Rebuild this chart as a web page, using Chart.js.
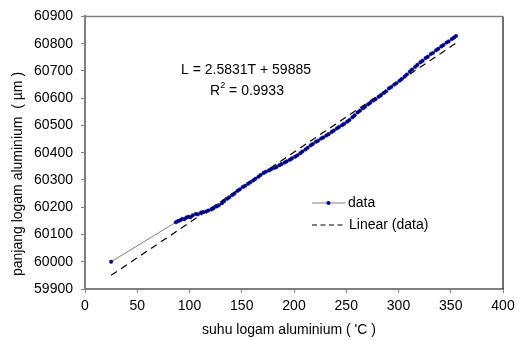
<!DOCTYPE html>
<html>
<head>
<meta charset="utf-8">
<script src="https://cdn.jsdelivr.net/npm/chart.js@4"></script>
<style>
  html, body { margin: 0; padding: 0; background: #fff; }
  #wrap { width: 520px; height: 340px; }
</style>
</head>
<body>
<div id="wrap"><canvas id="js--chart" width="520" height="340"></canvas></div>
<script>
// temperature (C) and length (um)
const suhu = [
    25, 87, 89, 91, 93, 95, 97, 99, 101, 103, 106, 108, 111, 113, 116, 118, 121, 123, 126, 128,
    131, 133, 136, 138, 141, 143, 146, 148, 151, 153, 156, 158, 161, 163, 166, 168, 171, 173, 176, 178,
    181, 183, 186, 188, 191, 193, 196, 198, 201, 203, 206, 208, 211, 213, 216, 218, 221, 223, 226, 228,
    231, 233, 236, 238, 241, 243, 246, 248, 251, 253, 256, 258, 261, 263, 266, 268, 271, 273, 276, 278,
    281, 283, 286, 288, 291, 293, 296, 298, 301, 303, 306, 308, 311, 313, 316, 318, 321, 323, 326, 328,
    331, 333, 336, 338, 341, 343, 346, 348, 351, 353, 355
];
const panjang = [
    60000, 60145, 60149, 60152, 60157, 60156, 60162, 60165, 60163, 60170, 60175, 60174, 60180, 60182, 60184, 60188, 60192, 60196, 60203, 60207,
    60215, 60222, 60231, 60236, 60245, 60250, 60260, 60265, 60274, 60278, 60286, 60291, 60298, 60304, 60312, 60318, 60326, 60330, 60335, 60339,
    60344, 60347, 60354, 60358, 60364, 60368, 60374, 60379, 60385, 60390, 60398, 60404, 60412, 60418, 60427, 60432, 60440, 60444, 60452, 60456,
    60463, 60468, 60476, 60481, 60489, 60494, 60501, 60506, 60514, 60520, 60530, 60537, 60548, 60554, 60563, 60569, 60578, 60583, 60592, 60596,
    60605, 60610, 60619, 60625, 60636, 60641, 60650, 60655, 60664, 60670, 60680, 60687, 60698, 60705, 60715, 60722, 60732, 60737, 60747, 60752,
    60762, 60766, 60776, 60781, 60790, 60795, 60804, 60808, 60817, 60822, 60828
];
// trendline L = 2.5831T + 59885, end points
const trendSuhu = [25, 355];
const trendPanjang = [59950, 60802];

const xTicks = [0, 50, 100, 150, 200, 250, 300, 350, 400];
const yTicks = [59900, 60000, 60100, 60200, 60300, 60400, 60500, 60600, 60700, 60800, 60900];

const FONT = "'Liberation Sans', Arial, sans-serif";

const dataPoints = suhu.map(function (t, i) { return { x: t, y: panjang[i] }; });
const trendPoints = trendSuhu.map(function (t, i) { return { x: t, y: trendPanjang[i] }; });

const extras = {
    id: 'extras',
    afterDraw: function (chart) {
        const ctx = chart.ctx;
        const a = chart.chartArea;
        ctx.save();
        // frame top / right
        ctx.lineWidth = 1.5;
        ctx.strokeStyle = '#808080';
        ctx.beginPath();
        ctx.moveTo(a.left, a.top);
        ctx.lineTo(a.right, a.top);
        ctx.stroke();
        ctx.strokeStyle = '#404040';
        ctx.beginPath();
        ctx.moveTo(a.right, a.top);
        ctx.lineTo(a.right, a.bottom);
        ctx.stroke();

        ctx.fillStyle = '#000';
        ctx.font = '14px ' + FONT;
        ctx.textBaseline = 'middle';

        // equation
        ctx.textAlign = 'center';
        ctx.fillText('L = 2.5831T + 59885', 246, 70);
        const r = 'R', rest = ' = 0.9933';
        const wR = ctx.measureText(r).width;
        ctx.font = '9px ' + FONT;
        const w2 = ctx.measureText('2').width;
        ctx.font = '14px ' + FONT;
        const wRest = ctx.measureText(rest).width;
        let x0 = 247 - (wR + w2 + wRest) / 2;
        ctx.textAlign = 'left';
        ctx.fillText(r, x0, 91);
        ctx.font = '9px ' + FONT;
        ctx.fillText('2', x0 + wR, 86);
        ctx.font = '14px ' + FONT;
        ctx.fillText(rest, x0 + wR + w2, 91);

        // legend
        ctx.lineWidth = 1;
        ctx.strokeStyle = '#808080';
        ctx.beginPath();
        ctx.moveTo(312, 203);
        ctx.lineTo(345, 203);
        ctx.stroke();
        ctx.fillStyle = '#000080';
        ctx.beginPath();
        ctx.arc(328.5, 203, 2, 0, Math.PI * 2);
        ctx.fill();
        ctx.strokeStyle = '#000';
        ctx.lineWidth = 1.2;
        ctx.setLineDash([5, 3.5]);
        ctx.beginPath();
        ctx.moveTo(312, 225);
        ctx.lineTo(346, 225);
        ctx.stroke();
        ctx.setLineDash([]);
        ctx.fillStyle = '#000';
        ctx.fillText('data', 348, 203);
        ctx.fillText('Linear (data)', 349, 225);

        // axis titles
        ctx.textAlign = 'center';
        ctx.fillText("suhu logam aluminium ( 'C )", 289, 330);
        ctx.translate(18, 174);
        ctx.rotate(-Math.PI / 2);
        ctx.fillText('panjang logam aluminium  ( \u00b5m )', 0, 0);
        ctx.restore();
    }
};

const config = {
    type: 'scatter',
    data: {
        datasets: [{
            label: 'data',
            data: dataPoints,
            showLine: true,
            borderColor: '#808080',
            borderWidth: 1,
            pointRadius: 1.8,
            pointBackgroundColor: '#000080',
            pointBorderColor: '#000080',
            pointBorderWidth: 0.5,
            order: 1
        }, {
            label: 'Linear (data)',
            data: trendPoints,
            showLine: true,
            borderColor: '#000',
            borderWidth: 1.2,
            borderDash: [7, 5],
            pointRadius: 0,
            order: 2
        }]
    },
    options: {
        responsive: false,
        animation: false,
        layout: { padding: { top: 14, right: 17, left: 0, bottom: 0 } },
        plugins: {
            legend: { display: false },
            tooltip: { enabled: false }
        },
        scales: {
            x: {
                type: 'linear',
                min: 0,
                max: 400,
                afterFit: function (s) { s.height = 51; },
                afterBuildTicks: function (s) { s.ticks = xTicks.map(function (v) { return { value: v }; }); },
                ticks: {
                    color: '#000', font: { family: FONT, size: 14 }, padding: 5, maxRotation: 0,
                    callback: function (v) { return String(v); }
                },
                grid: { drawOnChartArea: false, drawTicks: true, tickLength: 4, color: '#808080' },
                border: { color: '#808080', width: 2 }
            },
            y: {
                type: 'linear',
                min: 59900,
                max: 60900,
                afterFit: function (s) { s.width = 85; },
                afterBuildTicks: function (s) { s.ticks = yTicks.map(function (v) { return { value: v }; }); },
                ticks: {
                    color: '#000', font: { family: FONT, size: 14 }, padding: 8,
                    callback: function (v) { return String(v); }
                },
                grid: { drawOnChartArea: false, drawTicks: true, tickLength: 4, color: '#808080' },
                border: { color: '#808080', width: 2 }
            }
        }
    },
    plugins: [extras]
};

new Chart(document.getElementById('js--chart'), config);
</script>
</body>
</html>
